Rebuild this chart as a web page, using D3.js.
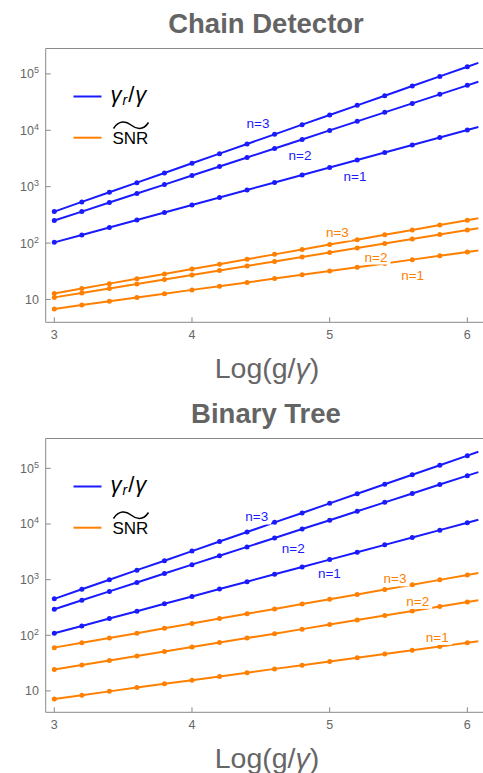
<!DOCTYPE html>
<html><head><meta charset="utf-8">
<script src="https://cdn.jsdelivr.net/npm/d3@7"></script>
<style>body{margin:0;background:#fff}svg{display:block}</style>
</head><body>
<script>
// ---- data ----
const xs = [3,3.2,3.4,3.6,3.8,4,4.2,4.4,4.6,4.8,5,5.2,5.4,5.6,5.8,6];
const xEnd = 6.08;
const seriesNames = ["n=3","n=2","n=1"];
const xTicks = [3,4,5,6];
const yTicks = [10,100,1000,10000,100000];

const chainGammaN3 = [362,537,797,1180,1750,2600,3850,5720,8480,12600,18700,27700,41000,60900,90300,134000];
const chainGammaN2 = [251,362,523,756,1090,1580,2280,3300,4760,6880,9950,14400,20800,30000,43400,62700];
const chainGammaN1 = [103,139,189,257,349,474,644,875,1190,1610,2190,2980,4050,5500,7460,10100];
const chainSnrN3 = [12.8,15.6,19.1,23.3,28.4,34.7,42.3,51.7,63.1,77.0,94.0,115,140,171,209,255];
const chainSnrN2 = [10.9,13.0,15.7,18.9,22.6,27.2,32.7,39.3,47.3,56.8,68.3,82.1,98.7,118,142,171];
const chainSnrN1 = [6.8,7.95,9.28,10.8,12.6,14.8,17.2,20.1,23.5,27.4,32.0,37.3,43.6,50.9,59.4,69.3];
const chainEnd = [157000,72600,11460,276,184,73.8];
const chainLabelX = [4.48,4.785,5.184,5.056,5.337,5.603];
const chainLabelY = [13650,3720,1531,154.5,57.8,27.0];

const treeGammaN3 = [452,671,995,1480,2190,3260,4840,7180,10700,15800,23500,34900,51800,76900,114000,169000];
const treeGammaN2 = [294,426,615,889,1290,1860,2690,3880,5610,8110,11700,16900,24500,35400,51200,74000];
const treeGammaN1 = [109,147,200,271,368,499,677,918,1250,1690,2290,3110,4220,5720,7760,10500];
const treeSnrN3 = [60.0,73.3,89.5,109,134,163,200,244,298,364,445,543,664,811,991,1210];
const treeSnrN2 = [24.3,29.2,35.2,42.4,51.0,61.5,74.1,89.2,107,129,156,188,226,273,328,395];
const treeSnrN1 = [7.19,8.40,9.82,11.5,13.4,15.6,18.2,21.3,24.9,29.0,33.9,39.6,46.3,54.0,63.1,73.7];
const treeEnd = [198600,85700,11880,1312,426,78.3];
const treeLabelX = [4.47,4.736,4.998,5.475,5.64,5.782];
const treeLabelY = [13650,3670,1300,1054,416,93.3];

const xDomain = [2.9375, 6.1];
const chainYDomain = [3.94, 282000];
const treeYDomain = [4.13, 344000];

// ---- drawing ----
const W = 483, H = 773;
const BLUE = "#1a1aff", ORANGE = "#ff8000", GRAY = "#666666", AX = "#8a8a8a";
const FONT = "'Liberation Sans', Arial, sans-serif";
const svg = d3.select("body").append("svg").attr("width", W).attr("height", H)
  .style("font-family", FONT);

function panel(idx, off, title, gam, snr, ends, labX, labY, yDom) {
  const L = 45.7, R = 481.1, T = 48.5 + off, B = 322.3 + off;
  const x = d3.scaleLinear().domain(xDomain).range([L, R]);
  const y = d3.scaleLog().domain(yDom).range([B, T]);
  const g = svg.append("g");
  const cid = "clip" + idx;
  g.append("clipPath").attr("id", cid).append("rect")
    .attr("x", L).attr("y", T).attr("width", W - L).attr("height", B - T);

  // title
  g.append("text").attr("x", 266).attr("y", 33 + off).attr("text-anchor", "middle")
    .attr("font-size", 27.5).attr("font-weight", "bold").attr("fill", "#646464").text(title);

  // frame
  g.append("line").attr("x1", L).attr("x2", W).attr("y1", T).attr("y2", T).attr("stroke", AX);
  g.append("line").attr("x1", L).attr("x2", W).attr("y1", B).attr("y2", B).attr("stroke", AX);
  g.append("line").attr("x1", L).attr("x2", L).attr("y1", T).attr("y2", B).attr("stroke", AX);

  // x ticks
  xTicks.forEach(t => {
    g.append("line").attr("x1", x(t)).attr("x2", x(t)).attr("y1", B).attr("y2", B - 5).attr("stroke", AX);
    g.append("text").attr("x", x(t)).attr("y", B + 17).attr("text-anchor", "middle")
      .attr("font-size", 12.5).attr("fill", GRAY).text(t);
  });
  // y ticks
  yTicks.forEach(t => {
    const yy = y(t);
    g.append("line").attr("x1", L).attr("x2", L + 5).attr("y1", yy).attr("y2", yy).attr("stroke", AX);
    const e = Math.round(Math.log10(t));
    const tx = g.append("text").attr("x", 39).attr("y", yy + 4.5).attr("text-anchor", "end")
      .attr("font-size", 12.5).attr("fill", GRAY);
    if (e === 1) tx.text("10");
    else {
      tx.append("tspan").text("10");
      tx.append("tspan").attr("font-size", 9).attr("dy", -5).text(e);
    }
  });
  // x label
  g.append("text").attr("x", 267).attr("y", 378 + off).attr("text-anchor", "middle")
    .attr("font-size", 28.5).attr("fill", GRAY)
    .html('Log(g/<tspan font-style="italic">γ</tspan>)');

  // series
  const all = [...gam.map(a => ({v: a, c: BLUE})), ...snr.map(a => ({v: a, c: ORANGE}))];
  const line = d3.line().x(d => x(d[0])).y(d => y(d[1]));
  const plot = g.append("g").attr("clip-path", `url(#${cid})`);
  all.forEach((s, i) => {
    const pts = xs.map((xv, k) => [xv, s.v[k]]);
    plot.append("path").datum([...pts, [xEnd, ends[i]]]).attr("d", line)
      .attr("fill", "none").attr("stroke", s.c).attr("stroke-width", 2);
    plot.selectAll(null).data(pts).enter().append("circle")
      .attr("cx", d => x(d[0])).attr("cy", d => y(d[1])).attr("r", 2.5).attr("fill", s.c);
  });

  // labels
  all.forEach((s, i) => {
    const lx = x(labX[i]), ly = y(labY[i]);
    const t = g.append("text").attr("x", lx).attr("y", ly + 5).attr("text-anchor", "middle")
      .attr("font-size", 13.5).attr("fill", s.c).text(seriesNames[i % 3]);
    const bb = t.node().getBBox();
    g.insert("rect", () => t.node()).attr("x", bb.x - 1).attr("y", bb.y + 1)
      .attr("width", bb.width + 4).attr("height", bb.height - 1).attr("fill", "#fff");
  });

  // legend
  const lg = g.append("g");
  lg.append("line").attr("x1", 73.5).attr("x2", 101.5).attr("y1", 96.5 + off).attr("y2", 96.5 + off)
    .attr("stroke", BLUE).attr("stroke-width", 2);
  lg.append("line").attr("x1", 73.5).attr("x2", 101.5).attr("y1", 137.7 + off).attr("y2", 137.7 + off)
    .attr("stroke", ORANGE).attr("stroke-width", 2);
  lg.append("text").attr("x", 110.5).attr("y", 101.5 + off).attr("font-size", 22).attr("fill", "#000")
    .html('<tspan font-style="italic">γ</tspan><tspan font-style="italic" font-size="14" dy="3" dx="1">r</tspan><tspan dy="-3" dx="1">/</tspan><tspan font-style="italic" dx="1">γ</tspan>');
  lg.append("text").attr("x", 112.5).attr("y", 143.5 + off).attr("font-size", 17).attr("fill", "#000").text("SNR");
  lg.append("path").attr("d", "M113.5,128.5C119,120 126,121 131,125 S143,131 148.5,122.5")
    .attr("transform", `translate(0,${off})`).attr("fill", "none").attr("stroke", "#000").attr("stroke-width", 1.5);
}

panel(0, 0, "Chain Detector",
  [chainGammaN3, chainGammaN2, chainGammaN1], [chainSnrN3, chainSnrN2, chainSnrN1],
  chainEnd, chainLabelX, chainLabelY, chainYDomain);
panel(1, 390, "Binary Tree",
  [treeGammaN3, treeGammaN2, treeGammaN1], [treeSnrN3, treeSnrN2, treeSnrN1],
  treeEnd, treeLabelX, treeLabelY, treeYDomain);
</script>
</body></html>
